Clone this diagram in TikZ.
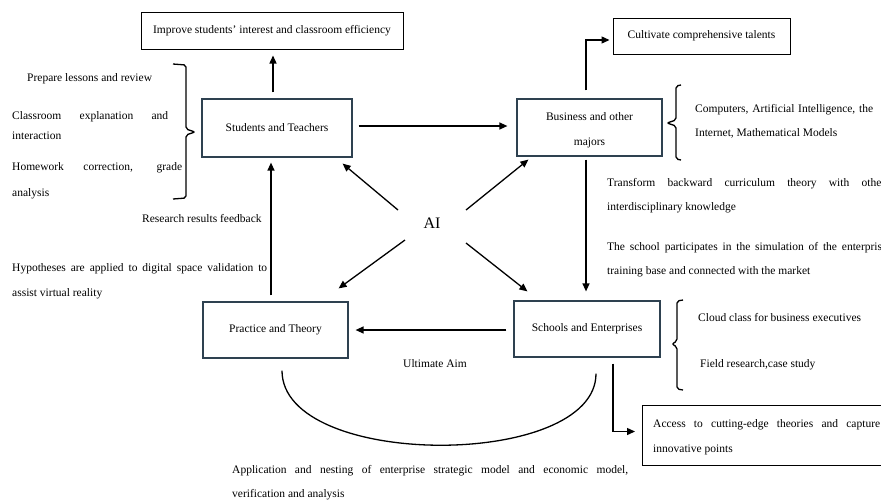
\documentclass[tikz,border=0pt]{standalone}
\usepackage{fontspec}
\setmainfont{Liberation Serif}
\usetikzlibrary{arrows.meta}
\definecolor{boxcol}{HTML}{2E4150}
\newcommand\fs{\fontsize{11.5}{25}\selectfont}
\newcommand\jl[2]{\makebox[#1pt][s]{\spaceskip=0pt\xspaceskip=0pt #2}}
\begin{document}
\begin{tikzpicture}[x=1pt,y=-1pt,
  mainbox/.style={draw=boxcol, line width=1.2pt, inner sep=0pt, font=\fs},
  plainbox/.style={draw=black, line width=1pt, inner sep=0pt, font=\fs},
  arr/.style={line width=1.3pt, -{Triangle[length=8pt,width=7pt]}},
  ln/.style={line width=1.3pt},
  txt/.style={anchor=base west, inner sep=0pt, font=\fs},
  bracepath/.style={line width=1.3pt, rounded corners=2pt}]
\useasboundingbox (0,0) rectangle (881,499);
\clip (0,0) rectangle (881,499);

% boxes
\node[plainbox, minimum width=262pt, minimum height=37pt] (imp) at (272,30.5) {Improve students' interest and classroom efficiency};
\node[mainbox, minimum width=150pt, minimum height=58pt] (st) at (277,128) {Students and Teachers};
\node[mainbox, minimum width=145pt, minimum height=57pt] (bm) at (589.5,127.5) {};
\node[font=\fs, align=center, inner sep=0pt] (bmtext) at ([yshift=-3pt]bm.center) {Business and other\\majors};
\node[plainbox, minimum width=177pt, minimum height=36pt] (cul) at (701.5,36) {Cultivate comprehensive talents};
\node[mainbox, minimum width=145pt, minimum height=56pt] (pt) at (275.5,330) {Practice and Theory};
\node[mainbox, minimum width=146pt, minimum height=56pt] (se) at (587,329) {Schools and Enterprises};
\node[plainbox, anchor=north west, minimum width=262pt, minimum height=60pt] (acc) at (642,405) {};
\node[font=\fs, anchor=west, inner sep=0pt, align=left] (acctext) at ([xshift=11pt,yshift=-2pt]acc.west) {\jl{227}{Access to cutting-edge theories and capture}\\innovative points};
\node[font=\fontsize{16}{18}\selectfont, inner sep=1pt] (ai) at (432,223) {AI};

% connectors
\draw[arr] ([xshift=-4pt,yshift=6pt]st.north) -- ([xshift=1pt,yshift=-6pt]imp.south);
\draw[arr] ([xshift=6pt,yshift=2pt]st.east) -- ([xshift=-9pt,yshift=1.5pt]bm.west);
\draw[arr] ([xshift=-34pt,yshift=13pt]ai.center) -- ([xshift=-10pt,yshift=-6pt]st.south east);
\draw[arr] ([xshift=34pt,yshift=13pt]ai.center) -- ([xshift=12pt,yshift=-3pt]bm.south west);
\draw[arr] ([xshift=-27pt,yshift=-17pt]ai.center) -- ([xshift=-10pt,yshift=13pt]pt.north east);
\draw[arr] ([xshift=34pt,yshift=-20pt]ai.center) -- ([xshift=14pt,yshift=9pt]se.north west);
\draw[arr] ([xshift=-3.5pt,yshift=-3pt]bm.south) -- ([xshift=-1pt,yshift=9pt]se.north);
\draw[arr] ([xshift=-3.5pt,yshift=8pt]bm.north) |- ([xshift=-3pt,yshift=-4pt]cul.west);
\draw[arr] ([xshift=-7pt,yshift=-1pt]se.west) -- ([xshift=7pt]pt.east);
\draw[arr] ([xshift=-4.5pt,yshift=6pt]pt.north) -- ([xshift=-6pt,yshift=-5pt]st.south);
\draw[arr] ([xshift=26pt,yshift=-6pt]se.south) |- ([xshift=-7pt,yshift=4pt]acc.west);
\draw[ln] ([xshift=6.5pt,yshift=-12pt]pt.south) .. controls +(0,99) and +(0,96) .. ([xshift=9pt,yshift=-16pt]se.south);

% braces
\draw[bracepath] (173,64) -- (186,65) -- (186,129) -- (195,132) -- (186,135) -- (186,198) -- (173,199);
\draw[bracepath] (681,85) -- (676,86) -- (676,120) -- (667,123) -- (676,126) -- (676,159) -- (681,160);
\draw[bracepath] (683,300) -- (677,301) -- (677,341) -- (672,344) -- (677,347) -- (677,389) -- (683,390);

% texts
\node[txt] (t1) at (27,81) {Prepare lessons and review};
\node[txt] (t2) at (12,119) {\jl{156}{Classroom explanation and}};
\node[txt] (t3) at (12,139) {interaction};
\node[txt] (t4) at (12,170) {\jl{170}{Homework correction, grade}};
\node[txt] (t5) at (12,196) {analysis};
\node[txt] (t6) at (142,222) {Research results feedback};
\node[txt] (t7) at (12,271) {\jl{255}{Hypotheses are applied to digital space validation to}};
\node[txt] (t8) at (12,296) {assist virtual reality};
\node[txt] (t9) at (695,112) {\jl{178}{Computers, Artificial Intelligence, the}};
\node[txt] (t10) at (695,136) {Internet, Mathematical Models};
\node[txt] (t11) at (607,186) {\jl{278}{Transform backward curriculum theory with other}};
\node[txt] (t12) at (607,210) {interdisciplinary knowledge};
\node[txt] (t13) at (607,250) {\jl{280}{The school participates in the simulation of the enterprise}};
\node[txt] (t14) at (607,274) {training base and connected with the market};
\node[txt] (t15) at (403,367) {Ultimate Aim};
\node[txt] (t16) at (698,321) {Cloud class for business executives};
\node[txt] (t17) at (700,367) {Field research,case study};
\node[txt] (t18) at (232,473) {\jl{396}{Application and nesting of enterprise strategic model and economic model,}};
\node[txt] (t19) at (232,497) {verification and analysis};
\end{tikzpicture}
\end{document}
